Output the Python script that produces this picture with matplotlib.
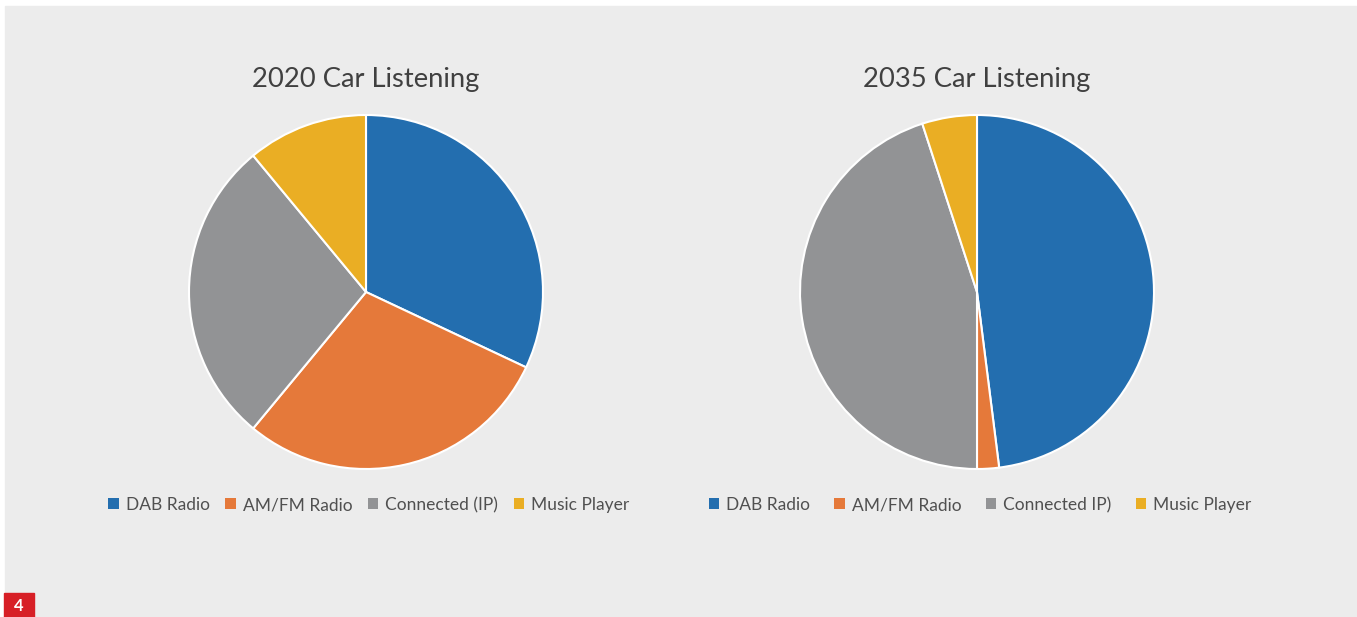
import matplotlib
matplotlib.use("Agg")
import matplotlib.pyplot as plt
from matplotlib.patches import Rectangle, Patch

# shares of in-car listening, per platform
platforms = ["DAB Radio", "AM/FM Radio", "Connected (IP)", "Music Player"]
legend_2035 = ["DAB Radio", "AM/FM Radio", "Connected IP)", "Music Player"]
share_2020 = [32, 29, 28, 11]
share_2035 = [48, 2, 45, 5]
titles = ["2020 Car Listening", "2035 Car Listening"]

colors = ["#236eaf", "#e5793a", "#929395", "#eaae24"]
plt.rcParams["font.family"] = ["Lato", "DejaVu Sans"]

W, H = 1357, 617
fig = plt.figure(figsize=(W / 100, H / 100), dpi=100)
fig.patch.set_facecolor("white")
fig.patches.append(Rectangle((5 / W, 0), 1 - 5 / W, (H - 6) / H,
                             transform=fig.transFigure, color="#ececec", zorder=-10))
fig.patches.append(Rectangle((4 / W, 0), 30 / W, 24 / H,
                             transform=fig.transFigure, color="#d71f26", zorder=-5))
fig.text(19 / W, 11 / H, "4", color="white", fontsize=12, fontweight="bold",
         ha="center", va="center")

R = 177
panels = [(366, share_2020, titles[0], platforms, 0.9),
          (977, share_2035, titles[1], legend_2035, 1.4)]
for cx, vals, title, labels, colsp in panels:
    ax = fig.add_axes([(cx - R) / W, (H - 292 - R) / H, 2 * R / W, 2 * R / H])
    ax.pie(vals, colors=colors, startangle=90, counterclock=False,
           wedgeprops={"edgecolor": "white", "linewidth": 1.5})
    ax.set_xlim(-1, 1)
    ax.set_ylim(-1, 1)
    ax.set_axis_off()
    fig.text(cx / W, (H - 79) / H, title, ha="center", va="center",
             fontsize=19.7, color="#404040")
    handles = [Patch(facecolor=c, label=l) for c, l in zip(colors, labels)]
    fig.legend(handles=handles, loc="center", bbox_to_anchor=((cx + 3) / W, (H - 505) / H),
               ncol=4, frameon=False, fontsize=12.5, handlelength=0.6, handleheight=0.6,
               handletextpad=0.4, columnspacing=colsp, labelcolor="#505050")

fig.savefig("out.png", dpi=100)
